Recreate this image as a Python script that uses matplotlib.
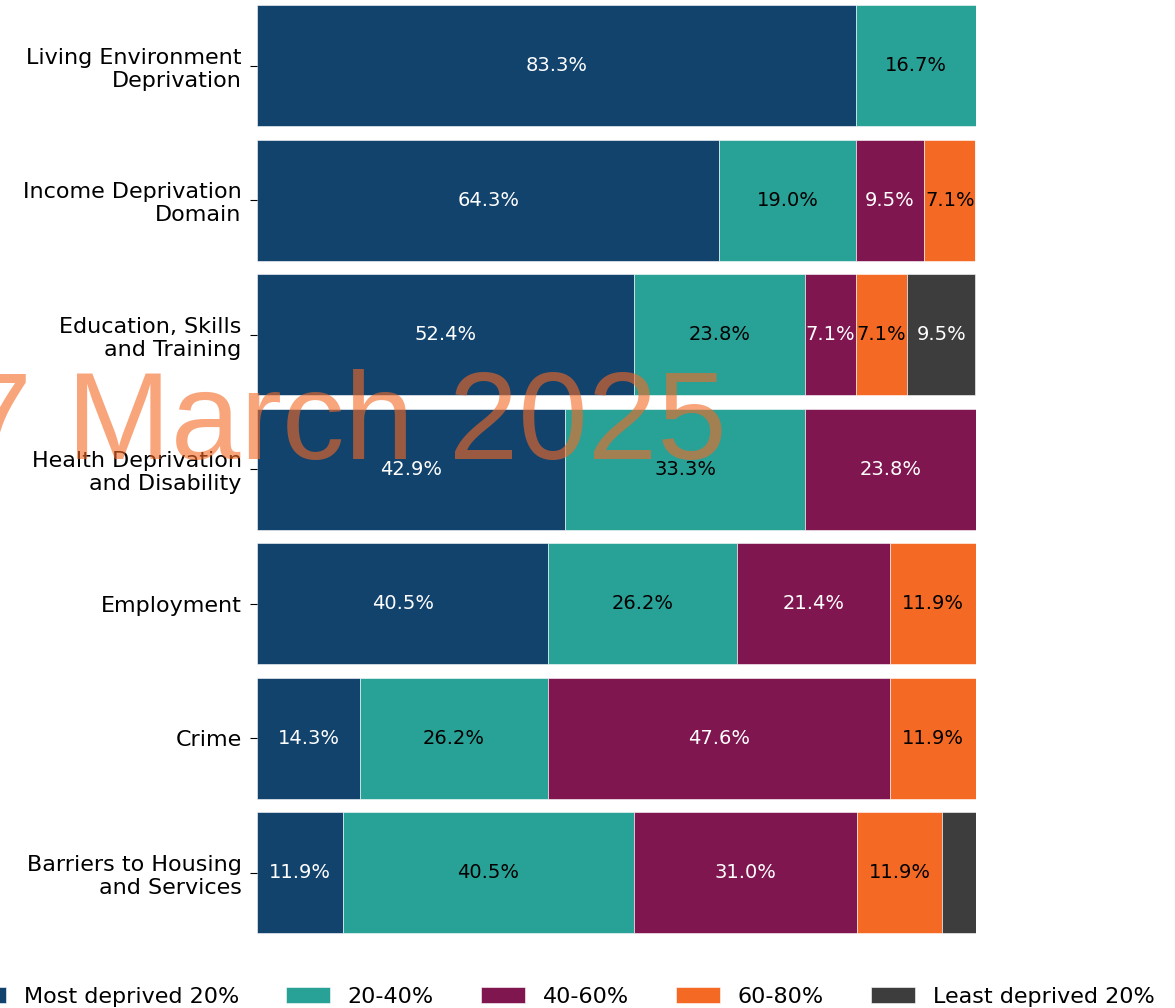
import matplotlib.pyplot as plt
import numpy as np

categories = [
    "Living Environment\nDeprivation",
    "Income Deprivation\nDomain",
    "Education, Skills\nand Training",
    "Health Deprivation\nand Disability",
    "Employment",
    "Crime",
    "Barriers to Housing\nand Services",
]
bands = ["Most deprived 20%", "20-40%", "40-60%", "60-80%", "Least deprived 20%"]
colors = ["#12436D", "#28A197", "#801650", "#F46A25", "#3D3D3D"]
text_colors = ["white", "black", "white", "black", "white"]

# share of areas (%) in each deprivation band, one list per band
most_deprived = [83.3, 64.3, 52.4, 42.9, 40.5, 14.3, 11.9]
band_20_40 = [16.7, 19.0, 23.8, 33.3, 26.2, 26.2, 40.5]
band_40_60 = [0.0, 9.5, 7.1, 23.8, 21.4, 47.6, 31.0]
band_60_80 = [0.0, 7.1, 7.1, 0.0, 11.9, 11.9, 11.9]
least_deprived = [0.0, 0.0, 9.5, 0.0, 0.0, 0.0, 4.8]

values = [most_deprived, band_20_40, band_40_60, band_60_80, least_deprived]

fig = plt.figure(figsize=(11.75, 10.08), dpi=100)
ax = fig.add_axes([257 / 1175, 1 - 940 / 1008, 719 / 1175, 941.7 / 1008])

y = np.arange(len(categories))
left = np.zeros(len(categories))
for band, vals, col, tcol in zip(bands, values, colors, text_colors):
    vals = np.array(vals)
    bars = ax.barh(y, vals, left=left, height=0.9, color=col, label=band,
                   edgecolor="white", linewidth=0.4)
    # small slices (< 5%) get no label, as in the original
    labels = [f"{v:.1f}%" if v >= 5 else "" for v in vals]
    ax.bar_label(bars, labels=labels, label_type="center", color=tcol, fontsize=14)
    left += vals

ax.set_yticks(y)
ax.set_yticklabels(categories, fontsize=16)
ax.tick_params(axis="y", length=5, pad=6)
ax.set_ylim(len(categories) - 0.5, -0.5)
ax.set_xlim(0, 100)
ax.set_xticks([])
for s in ax.spines.values():
    s.set_visible(False)

fig.legend(loc="center", bbox_to_anchor=(558 / 1175, 1 - 997 / 1008), ncol=5,
           frameon=False, fontsize=16, handlelength=2.0, columnspacing=2.1)

fig.text(727 / 1175, 1 - 459 / 1008, "17 March 2025", ha="right", va="baseline",
         fontsize=90, family="Liberation Sans", color="#F46A25", alpha=0.6)

fig.savefig("out.png", dpi=100)
